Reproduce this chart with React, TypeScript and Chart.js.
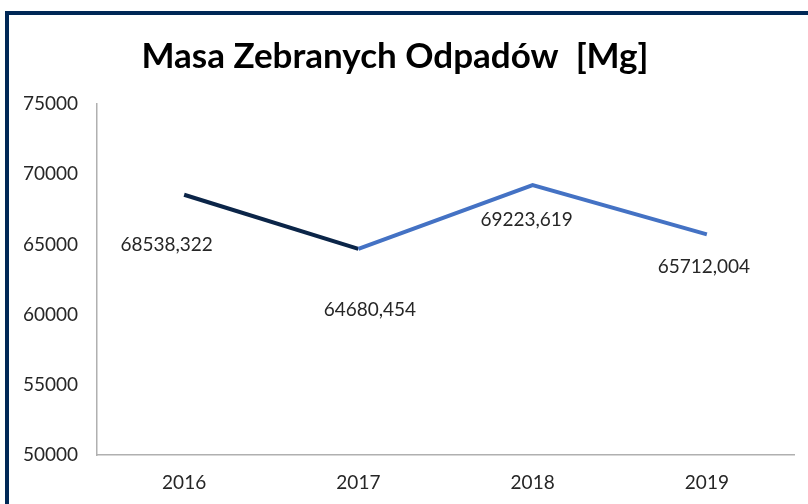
import React, { useEffect, useRef } from "react";
import { Chart, registerables } from "chart.js";

Chart.register(...registerables);

const categories = ["2016", "2017", "2018", "2019"];
const values = [68538.322, 64680.454, 69223.619, 65712.004];
const valueLabels = ["68538,322", "64680,454", "69223,619", "65712,004"];
const yMin = 50000;
const yMax = 75000;
const yStep = 5000;
const titleText = "Masa Zebranych Odpadów  [Mg]";

const labelDx = [-17.5, 11.5, -6, -3];
const labelDy = [50.5, 61, 35, 32];
const FONT = "Lato, 'Open Sans', sans-serif";

const overlayPlugin = {
  id: "overlay",
  afterDatasetsDraw(chart: any) {
    const ctx = chart.ctx;
    const meta = chart.getDatasetMeta(0);
    ctx.save();
    ctx.font = `19px ${FONT}`;
    ctx.fillStyle = "#262626";
    ctx.textAlign = "center";
    ctx.textBaseline = "middle";
    meta.data.forEach((pt: any, i: number) => {
      ctx.fillText(valueLabels[i], pt.x + labelDx[i], pt.y + labelDy[i]);
    });
    ctx.font = `bold 35px ${FONT}`;
    ctx.fillStyle = "#000000";
    ctx.textBaseline = "alphabetic";
    ctx.fillText(titleText, 395, 68);
    ctx.restore();
  },
};

export default function App() {
  const ref = useRef<HTMLCanvasElement>(null);
  useEffect(() => {
    if (!ref.current) return;
    const chart = new Chart(ref.current, {
      type: "line",
      data: {
        labels: categories,
        datasets: [
          {
            data: values,
            borderWidth: 4,
            pointRadius: 0,
            tension: 0,
            borderColor: "#4472c4",
            segment: {
              borderColor: (c: any) => (c.p0DataIndex === 0 ? "#0b2548" : "#4472c4"),
            },
          },
        ],
      },
      options: {
        animation: false,
        responsive: false,
        maintainAspectRatio: false,
        layout: { padding: { top: 104, right: 14, left: 0, bottom: 0 } },
        plugins: { legend: { display: false }, tooltip: { enabled: false } },
        scales: {
          x: {
            offset: true,
            grid: { display: false, drawTicks: false },
            border: { display: true, color: "#b0b0b0", width: 1.5 },
            ticks: { color: "#262626", font: { family: FONT, size: 19 }, padding: 16 },
            afterFit: (s: any) => {
              s.height = 49;
            },
          },
          y: {
            min: yMin,
            max: yMax,
            grid: { display: false, drawTicks: false },
            border: { display: true, color: "#b0b0b0", width: 1.5 },
            ticks: {
              stepSize: yStep,
              color: "#262626",
              font: { family: FONT, size: 19 },
              padding: 19,
              callback: (v: any) => String(v),
            },
            afterFit: (s: any) => {
              s.width = 97;
            },
          },
        },
      },
      plugins: [overlayPlugin],
    });
    return () => chart.destroy();
  }, []);

  return (
    <div
      style={{
        position: "fixed",
        left: 0,
        top: 0,
        width: 808,
        height: 504,
        overflow: "hidden",
        background: "#ffffff",
      }}
    >
      <div
        style={{
          position: "absolute",
          left: 5,
          top: 11,
          width: 900,
          height: 600,
          border: "4px solid #002856",
          boxSizing: "border-box",
        }}
      />
      <canvas
        ref={ref}
        width={808}
        height={504}
        style={{ position: "absolute", left: 0, top: 0, width: 808, height: 504 }}
      />
    </div>
  );
}
